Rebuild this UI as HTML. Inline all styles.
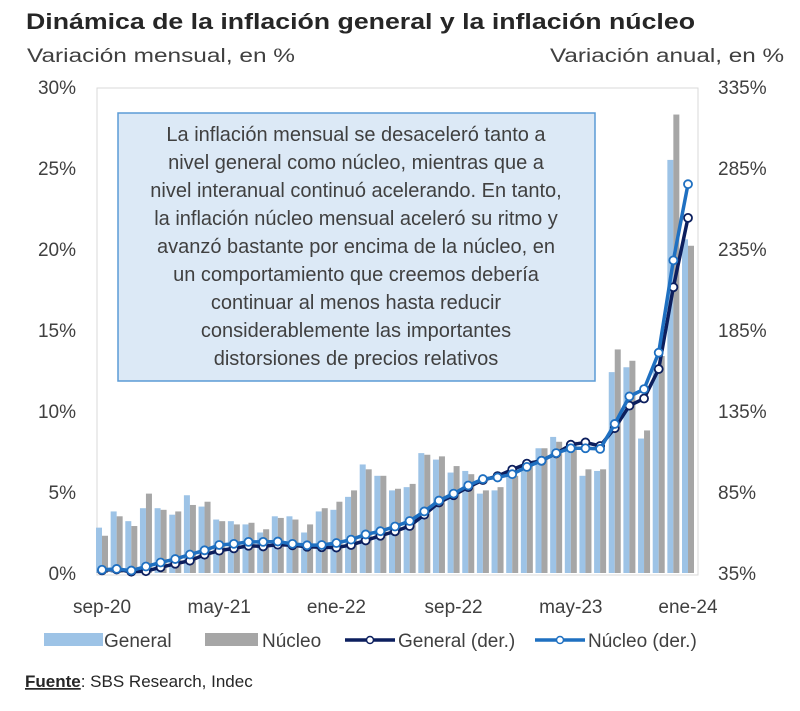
<!DOCTYPE html>
<html><head><meta charset="utf-8"><style>
body{margin:0;background:#fff;width:800px;height:706px;overflow:hidden}
svg{font-family:"Liberation Sans",sans-serif}
</style></head><body>
<svg id="c" width="800" height="706" viewBox="0 0 800 706">
<text x="26" y="29" font-size="22" font-weight="bold" fill="#262626" textLength="669" lengthAdjust="spacingAndGlyphs">Dinámica de la inflación general y la inflación núcleo</text>
<text x="27" y="62" font-size="19" fill="#404040" textLength="268" lengthAdjust="spacingAndGlyphs">Variación mensual, en %</text>
<text x="550" y="62" font-size="19" fill="#404040" textLength="234" lengthAdjust="spacingAndGlyphs">Variación anual, en %</text>
<rect x="97" y="88" width="601" height="487" fill="none" stroke="#d9d9d9"/>
<g id="bars"></g><g id="lines"></g><g id="ticks"></g>
<rect x="118" y="113" width="477" height="268" fill="#dce9f6" stroke="#5b9bd5" stroke-width="1.5"/>
<g font-size="20" fill="#404040" text-anchor="middle">
<text x="356" y="141">La inflación mensual se desaceleró tanto a</text>
<text x="356" y="169">nivel general como núcleo, mientras que a</text>
<text x="356" y="197">nivel interanual continuó acelerando. En tanto,</text>
<text x="356" y="225">la inflación núcleo mensual aceleró su ritmo y</text>
<text x="356" y="253">avanzó bastante por encima de la núcleo, en</text>
<text x="356" y="281">un comportamiento que creemos debería</text>
<text x="356" y="309">continuar al menos hasta reducir</text>
<text x="356" y="337">considerablemente las importantes</text>
<text x="356" y="365">distorsiones de precios relativos</text>
</g>
<g font-size="19" fill="#404040">
<rect x="44" y="633" width="59" height="13" fill="#9dc3e6"/>
<text x="104" y="647">General</text>
<rect x="205" y="633" width="53" height="13" fill="#a6a6a6"/>
<text x="262" y="647">Núcleo</text>
<line x1="345" y1="640" x2="395" y2="640" stroke="#0c1f5e" stroke-width="3.5"/><circle cx="370" cy="640" r="3.5" fill="#fff" stroke="#0c1f5e" stroke-width="1.5"/>
<text x="398" y="647">General (der.)</text>
<line x1="535" y1="640" x2="585" y2="640" stroke="#1f70c1" stroke-width="3.5"/><circle cx="560" cy="640" r="3.5" fill="#fff" stroke="#1f70c1" stroke-width="1.5"/>
<text x="588" y="647">Núcleo (der.)</text>
</g>
<text x="25" y="687" font-size="17" fill="#262626"><tspan font-weight="bold" text-decoration="underline">Fuente</tspan>: SBS Research, Indec</text>
</svg>
<script>
const categories=["sep-20","oct-20","nov-20","dic-20","ene-21","feb-21","mar-21","abr-21","may-21","jun-21","jul-21","ago-21","sep-21","oct-21","nov-21","dic-21","ene-22","feb-22","mar-22","abr-22","may-22","jun-22","jul-22","ago-22","sep-22","oct-22","nov-22","dic-22","ene-23","feb-23","mar-23","abr-23","may-23","jun-23","jul-23","ago-23","sep-23","oct-23","nov-23","dic-23","ene-24"];
const generalMonthly=[2.8,3.8,3.2,4.0,4.0,3.6,4.8,4.1,3.3,3.2,3.0,2.5,3.5,3.5,2.5,3.8,3.9,4.7,6.7,6.0,5.1,5.3,7.4,7.0,6.2,6.3,4.9,5.1,6.0,6.6,7.7,8.4,7.8,6.0,6.3,12.4,12.7,8.3,12.8,25.5,20.6];
const coreMonthly=[2.3,3.5,2.9,4.9,3.9,3.8,4.2,4.4,3.2,3.0,3.1,2.7,3.4,3.3,3.0,4.0,4.4,5.1,6.4,6.0,5.2,5.5,7.3,7.2,6.6,6.1,5.1,5.3,6.0,6.7,7.7,8.1,8.1,6.4,6.4,13.8,13.1,8.8,13.4,28.3,20.2];
const generalAnnual=[36.6,37.2,35.8,36.1,38.5,40.7,42.6,46.3,48.8,50.2,51.8,51.4,52.5,52.1,51.2,50.9,50.7,52.3,55.1,58.0,60.7,64.0,71.0,78.5,83.0,88.0,92.4,94.8,98.8,102.5,104.3,108.8,114.2,115.6,113.4,124.4,138.3,142.7,160.9,211.4,254.2];
const coreAnnual=[37.0,37.5,36.5,39.0,41.5,43.6,46.4,49.0,52.3,53.0,54.2,54.2,54.4,53.0,52.1,52.3,53.5,55.6,58.8,60.8,63.7,67.1,73.0,79.7,84.0,89.0,93.0,94.0,96.0,100.5,104.3,109.0,112.0,112.0,111.6,127.0,144.0,148.5,171.0,228.0,275.0];
const leftTicks=[0,5,10,15,20,25,30];
const rightTicks=[35,85,135,185,235,285,335];
const xLabelIdx=[0,8,16,24,32,40];

const NS="http://www.w3.org/2000/svg";
const x0=102,x1=688,yB=573,yT=87;
const xs=i=>x0+(x1-x0)*i/(categories.length-1);
const yL=v=>yB-(yB-yT)*v/30;
const yR=v=>yB-(yB-yT)*(v-35)/300;
function mk(t,a,p){const e=document.createElementNS(NS,t);for(const k in a)e.setAttribute(k,a[k]);p.appendChild(e);return e;}
const bars=document.getElementById('bars'),lines=document.getElementById('lines'),ticks=document.getElementById('ticks');
categories.forEach((c,i)=>{
  const b1=mk('rect',{x:xs(i)-6,y:yL(generalMonthly[i]),width:6,height:yB-yL(generalMonthly[i]),fill:'#9dc3e6'},bars);
  
  
  const b2=mk('rect',{x:xs(i),y:yL(coreMonthly[i]),width:6,height:yB-yL(coreMonthly[i]),fill:'#a6a6a6'},bars);
  
  
});
function drawLine(arr,color,name){
  const pts=arr.map((v,i)=>xs(i)+','+yR(v)).join(' ');
  const l=mk('polyline',{points:pts,fill:'none',stroke:color,'stroke-width':3.5,'stroke-linejoin':'round'},lines);
  
  
  arr.forEach((v,i)=>{
    const p=mk('circle',{cx:xs(i),cy:yR(v),r:4,fill:'#fff',stroke:color,'stroke-width':1.8},lines);
    
    
  });
}
drawLine(generalAnnual,'#0c1f5e','general-annual');
drawLine(coreAnnual,'#1f70c1','nucleo-annual');
leftTicks.forEach(v=>{
  const t=mk('text',{x:76,y:yL(v)+7,'font-size':19,fill:'#404040','text-anchor':'end'},ticks);
  t.textContent=v+'%';
  
  
});
rightTicks.forEach(v=>{
  const t=mk('text',{x:718,y:yR(v)+7,'font-size':19,fill:'#404040'},ticks);
  t.textContent=v+'%';
  
  
});
xLabelIdx.forEach(i=>{
  const t=mk('text',{x:xs(i),y:613,'font-size':19,fill:'#404040','text-anchor':'middle'},ticks);
  t.textContent=categories[i];
  
  
});
</script>
</body></html>
